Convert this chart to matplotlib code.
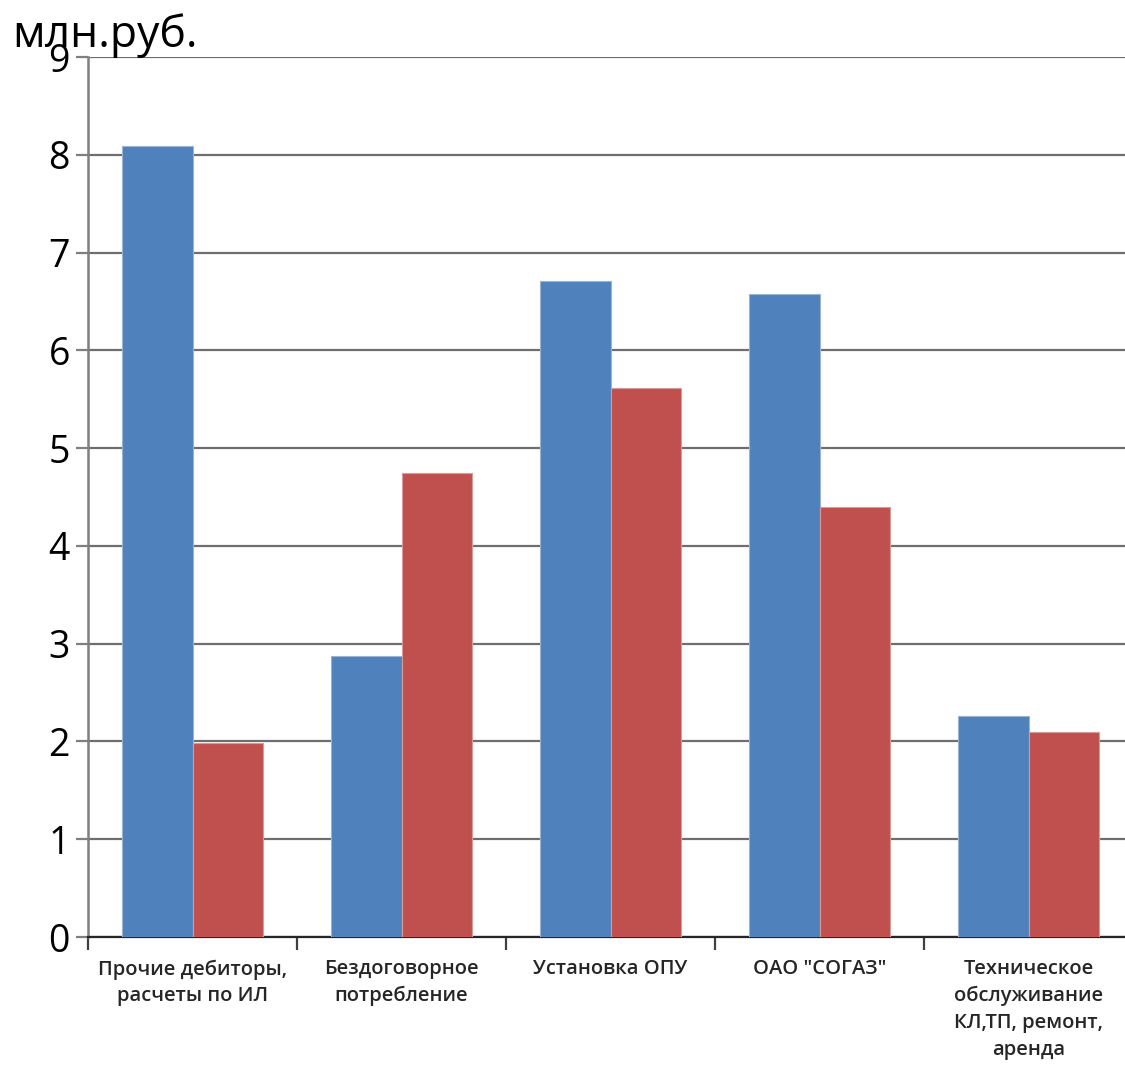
import matplotlib.pyplot as plt
import numpy as np

categories = ['Прочие дебиторы,\nрасчеты по ИЛ', 'Бездоговорное\nпотребление',
              'Установка ОПУ', 'ОАО "СОГАЗ"',
              'Техническое\nобслуживание\nКЛ,ТП, ремонт,\nаренда']
blue_vals = [8.09, 2.87, 6.71, 6.58, 2.26]
red_vals = [1.98, 4.75, 5.61, 4.40, 2.10]
y_ticks = [0, 1, 2, 3, 4, 5, 6, 7, 8, 9]

plt.rcParams['font.family'] = ['Open Sans', 'DejaVu Sans']

fig = plt.figure(figsize=(11.25, 10.66), dpi=100)
ax = fig.add_axes([88/1125, 129/1066, 1045/1125, 880/1066])

x = np.arange(len(categories))
w = 0.335
ax.bar(x - w/2, blue_vals, w, color='#4F81BD', edgecolor='#9db3cf', linewidth=0.8, zorder=3)
ax.bar(x + w/2, red_vals, w, color='#C0504D', edgecolor='#d59b99', linewidth=0.8, zorder=3)

ax.set_xlim(-0.5, len(categories) - 0.5)
ax.set_ylim(0, 9)
ax.set_yticks(y_ticks)
ax.set_yticklabels([str(v) for v in y_ticks], fontsize=27)
ax.yaxis.grid(True, color='#6e6e6e', linewidth=1.6, zorder=0)
ax.set_axisbelow(True)

ax.set_xticks(np.arange(-0.5, len(categories), 1.0))
ax.set_xticklabels([])
ax.set_xticks(x, minor=True)
ax.set_xticklabels(categories, minor=True, fontsize=14.5, fontweight='semibold',
                   color='#262626', linespacing=1.45, va='top')
ax.tick_params(axis='x', which='minor', length=0, pad=16)
ax.tick_params(axis='x', which='major', length=9, width=1.6, color='#404040')
ax.tick_params(axis='y', length=9, width=1.6, color='#7f7f7f', pad=4)

for s in ['top', 'right']:
    ax.spines[s].set_visible(False)
ax.spines['left'].set_color('#7f7f7f')
ax.spines['left'].set_linewidth(1.8)
ax.spines['bottom'].set_color('#262626')
ax.spines['bottom'].set_linewidth(1.6)

fig.text(12/1125, 1 - 47/1066, 'млн.руб.', fontsize=32, va='baseline', ha='left')

plt.savefig('out.png', dpi=100)
